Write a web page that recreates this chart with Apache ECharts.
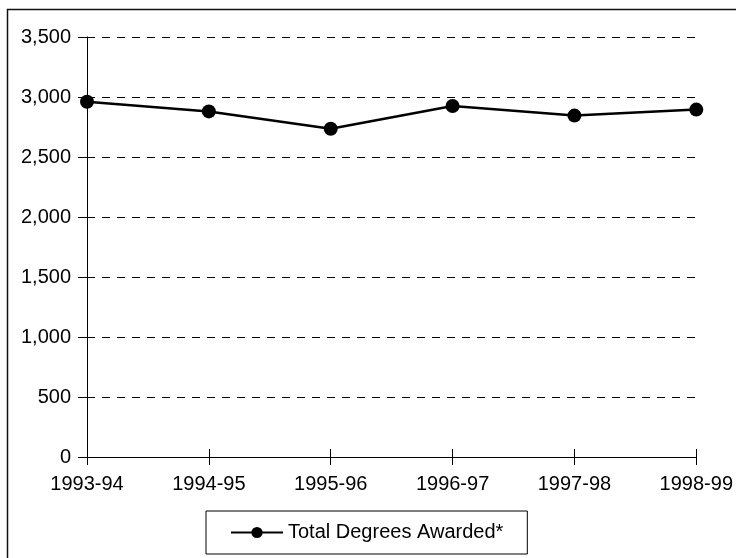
<!DOCTYPE html>
<html>
<head>
<meta charset="utf-8">
<script src="https://cdn.jsdelivr.net/npm/echarts@6/dist/echarts.min.js"></script>
<style>
html,body{margin:0;padding:0;background:#fff;}
#chart{width:736px;height:558px;}
</style>
</head>
<body>
<div id="chart"></div>
<script>
const categories = ['1993-94', '1994-95', '1995-96', '1996-97', '1997-98', '1998-99'];
const totalDegrees = [2960, 2880, 2735, 2925, 2845, 2895];
const seriesName = 'Total Degrees Awarded*';
const yMin = 0, yMax = 3500, yStep = 500;

const FONT = '"Liberation Sans", Arial, sans-serif';
const chart = echarts.init(document.getElementById('chart'), null, {renderer: 'canvas'});

const yFmt = v => v.toLocaleString('en-US');

chart.setOption({
  animation: false,
  backgroundColor: '#fff',
  textStyle: {fontFamily: FONT},
  grid: {left: 87, right: 39, top: 37, bottom: 101, containLabel: false},
  graphic: [{
    type: 'rect',
    shape: {x: 7.5, y: 9.5, width: 800, height: 600},
    style: {fill: 'none', stroke: '#111', lineWidth: 1.5},
    silent: true,
    z: -1
  }],
  xAxis: [{
    type: 'category',
    data: categories,
    boundaryGap: false,
    axisLine: {lineStyle: {color: '#000', width: 1}},
    axisTick: {show: true, length: 8, alignWithLabel: true, lineStyle: {color: '#000'}},
    axisLabel: {color: '#000', fontSize: 20, fontFamily: FONT, margin: 17},
    splitLine: {show: false}
  }, {
    type: 'category',
    data: categories,
    boundaryGap: false,
    position: 'bottom',
    axisLine: {show: false},
    axisTick: {show: true, inside: true, length: 8, lineStyle: {color: '#000'}},
    axisLabel: {show: false},
    splitLine: {show: false}
  }],
  yAxis: [{
    type: 'value',
    min: yMin, max: yMax, interval: yStep,
    axisLine: {show: true, lineStyle: {color: '#000', width: 1}},
    axisTick: {show: true, length: 9, lineStyle: {color: '#000'}},
    axisLabel: {color: '#000', fontSize: 20, fontFamily: FONT, margin: 16, formatter: yFmt},
    splitLine: {show: true, lineStyle: {color: '#000', width: 1, type: [8, 7]}}
  }, {
    type: 'value',
    min: yMin, max: yMax, interval: yStep,
    position: 'left',
    axisLine: {show: false},
    axisTick: {show: true, inside: true, length: 8, lineStyle: {color: '#000'}},
    axisLabel: {show: false},
    splitLine: {show: false}
  }],
  legend: {
    show: true,
    left: 206, top: 511,
    orient: 'horizontal',
    borderColor: '#000', borderWidth: 1,
    padding: [11, 24, 11, 24],
    itemWidth: 52, itemHeight: 14, itemGap: 5,
    textStyle: {color: '#000', fontSize: 20, fontFamily: FONT, lineHeight: 21},
    data: [{name: seriesName}]
  },
  series: [{
    name: seriesName,
    type: 'line',
    data: totalDegrees,
    xAxisIndex: 0, yAxisIndex: 0,
    symbol: 'circle',
    symbolSize: 14,
    itemStyle: {color: '#000'},
    lineStyle: {color: '#000', width: 2.5},
    z: 5
  }]
});
</script>
</body>
</html>
